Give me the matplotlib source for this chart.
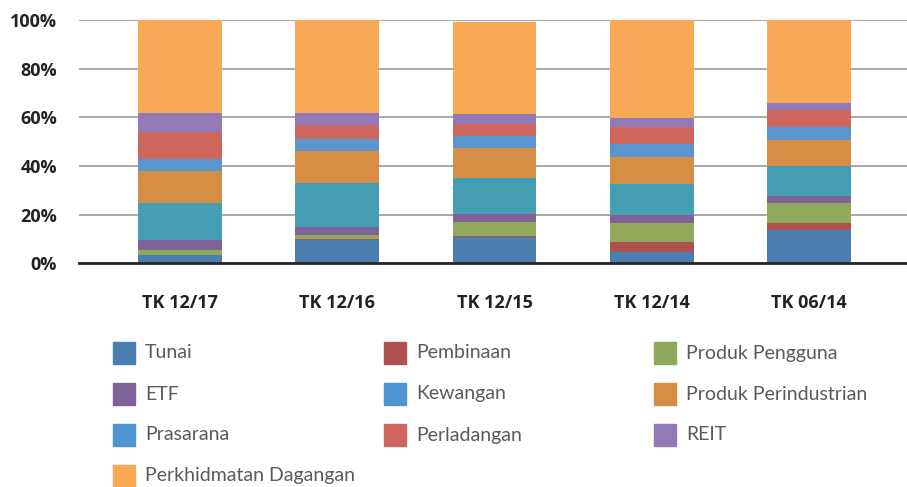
import numpy as np
import matplotlib
matplotlib.use("Agg")
import matplotlib.pyplot as plt
from matplotlib.patches import Rectangle

# kategori (tempoh)
kategori = ["TK 12/17", "TK 12/16", "TK 12/15", "TK 12/14", "TK 06/14"]

# peratus bagi setiap sektor, dari bawah ke atas
tunai = [3.3, 9.7, 10.9, 4.6, 13.8]
pembinaan = [0.0, 0.4, 0.4, 4.1, 2.7]
produk_pengguna = [2.1, 1.6, 5.6, 7.8, 8.1]
etf = [4.2, 3.3, 3.3, 3.3, 3.0]
kewangan = [15.1, 18.1, 14.8, 12.7, 12.3]
produk_perindustrian = [13.2, 12.9, 12.3, 11.0, 10.8]
prasarana = [4.8, 5.2, 4.9, 5.5, 5.2]
perladangan = [11.4, 5.8, 4.9, 6.9, 7.0]
reit = [7.7, 4.9, 4.1, 3.8, 2.9]
perkhidmatan = [38.3, 38.2, 38.0, 40.3, 34.1]

siri = [tunai, pembinaan, produk_pengguna, etf, kewangan,
        produk_perindustrian, prasarana, perladangan, reit, perkhidmatan]
nama = ["Tunai", "Pembinaan", "Produk Pengguna", "ETF", "Kewangan",
        "Produk Perindustrian", "Prasarana", "Perladangan", "REIT",
        "Perkhidmatan Dagangan"]
warna_bar = ["#4C7DAF", "#AF524F", "#92A95B", "#7F6398", "#459EB3",
             "#D68E44", "#5B95CD", "#CE665D", "#917AB5", "#F9A856"]
warna_legenda = ["#4C7DAF", "#AF524F", "#8EA95B", "#7F6398", "#4F95D1",
                 "#D68E44", "#4F95D1", "#CE665D", "#917AB5", "#F9A856"]

fig = plt.figure(figsize=(9.07, 4.87), dpi=100)
ax = fig.add_axes([79 / 907, 1 - 263.3 / 487, 1 - 79 / 907, (263.3 - 20) / 487])

x = np.arange(len(kategori))
bawah = np.zeros(len(kategori))
for s, c in zip(siri, warna_bar):
    ax.bar(x, s, bottom=bawah, width=0.534, color=c, zorder=3)
    bawah += np.array(s)

ax.set_xlim(-0.642, 4.623)
ax.set_ylim(0, 100)
ax.set_yticks([0, 20, 40, 60, 80, 100])
ax.set_yticklabels([f"{v}%" for v in [0, 20, 40, 60, 80, 100]])
ax.set_xticks(x)
ax.set_xticklabels(kategori)

ax.yaxis.grid(True, color="#A8A8A8", linewidth=1.4, zorder=0)
for sp in ["top", "right", "left"]:
    ax.spines[sp].set_visible(False)
ax.spines["bottom"].set_color("#262626")
ax.spines["bottom"].set_linewidth(2)
ax.spines["bottom"].set_zorder(4)
ax.tick_params(axis="y", length=0, pad=16, labelsize=13, labelcolor="#222222")
ax.tick_params(axis="x", length=0, pad=22, labelsize=13, labelcolor="#222222")
for t in ax.get_xticklabels() + ax.get_yticklabels():
    t.set_fontweight("bold")
    t.set_family("Open Sans")

# legenda manual, 3 lajur
lajur_x = [113, 384, 654]
baris_y = [353, 394, 435, 476]
for i, (n, c) in enumerate(zip(nama, warna_legenda)):
    r, k = divmod(i, 3)
    px, py = lajur_x[k], baris_y[r]
    fig.patches.append(Rectangle((px / 907, 1 - (py + 11) / 487), 22 / 907, 22 / 487,
                                 transform=fig.transFigure, color=c))
    fig.text((px + 32) / 907, 1 - py / 487, n, va="center", ha="left",
             fontsize=14, color="#5a5a5a", family="Lato", fontweight="normal")

fig.savefig("out.png", dpi=100)
